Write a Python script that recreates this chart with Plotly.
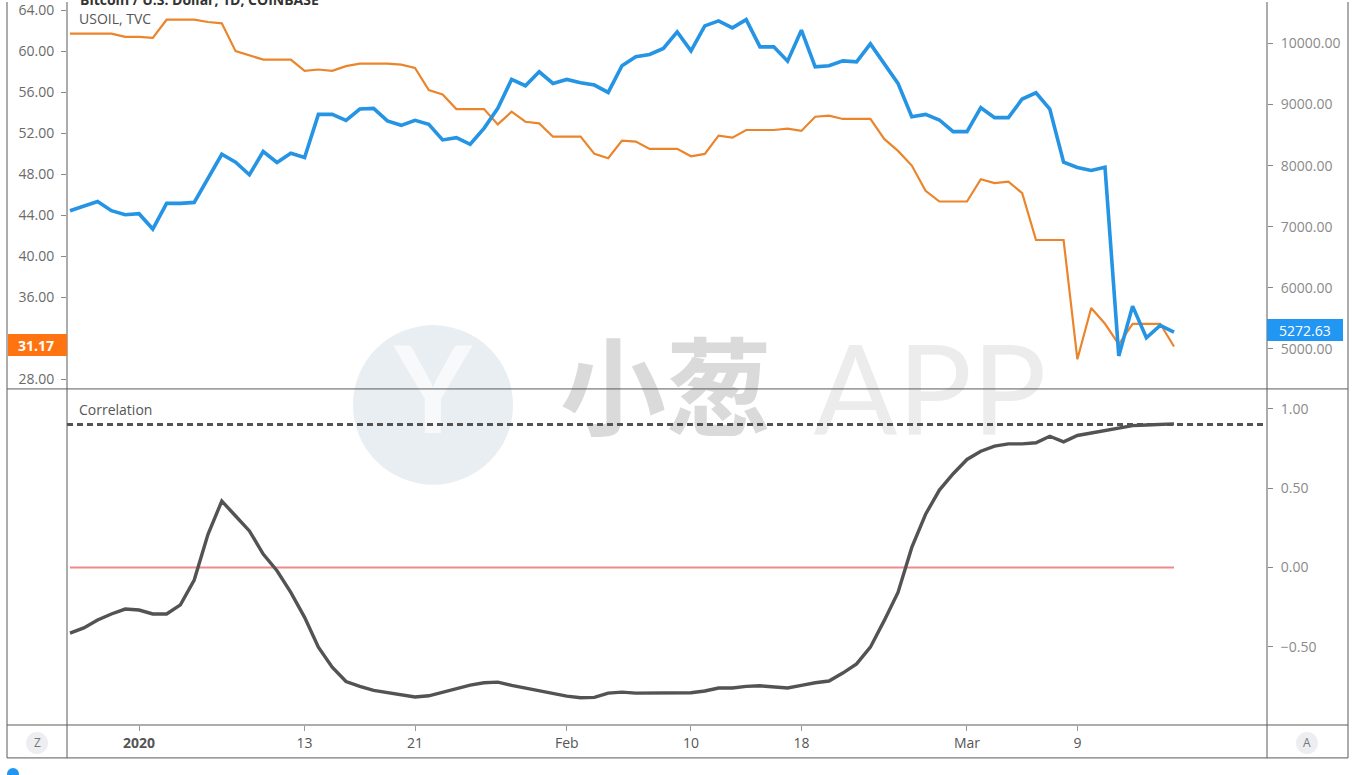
import pandas as pd
import plotly.graph_objects as go

# ---------------- data ----------------
dates = pd.date_range("2019-12-27", "2020-03-16", freq="D")

btc_usd = [7261, 7337, 7413, 7261, 7196, 7212, 6961, 7381, 7381, 7397,
           7794, 8186, 8056, 7850, 8231, 8051, 8203, 8132, 8840, 8840,
           8742, 8928, 8938, 8732, 8660, 8742, 8677, 8421, 8459, 8350,
           8611, 8938, 9412, 9309, 9538, 9347, 9412, 9358, 9320, 9199,
           9636, 9783, 9821, 9919, 10191, 9881, 10289, 10371, 10257, 10392,
           9946, 9946, 9712, 10219, 9619, 9636, 9717, 9701, 9995,
           9673, 9347, 8802, 8840, 8748, 8557, 8557, 8949, 8786, 8786,
           9091, 9194, 8928, 8056, 7969, 7920, 7974, 4881, 5698, 5180,
           5382, 5272.63]

usoil = [61.72, 61.72, 61.72, 61.72, 61.40, 61.40, 61.30, 63.08, 63.08, 63.08,
         62.86, 62.73, 60.01, 59.62, 59.19, 59.19, 59.19, 58.09, 58.22, 58.09,
         58.55, 58.80, 58.80, 58.80, 58.70, 58.38, 56.21, 55.78, 54.36, 54.36,
         54.36, 52.86, 54.10, 53.12, 52.96, 51.66, 51.66, 51.66, 49.98, 49.55,
         51.27, 51.18, 50.47, 50.47, 50.47, 49.74, 49.98, 51.76, 51.57, 52.31,
         52.31, 52.31, 52.44, 52.22, 53.61, 53.71, 53.39, 53.39, 53.39,
         51.44, 50.27, 48.84, 46.38, 45.33, 45.33, 45.33, 47.51, 47.12, 47.28,
         46.14, 41.57, 41.57, 41.57, 29.92, 34.94, 33.39, 31.38, 33.39, 33.39,
         33.39, 31.17]

correlation = [-0.414, -0.381, -0.331, -0.293, -0.262, -0.268, -0.293, -0.293, -0.236, -0.079, 0.209,
               0.418, 0.324, 0.230, 0.084, -0.021, -0.157, -0.314, -0.502, -0.628, -0.718,
               -0.749, -0.774, -0.789, -0.799, -0.816, -0.808, -0.785, -0.766, -0.741, -0.726,
               -0.722, -0.743, -0.759, -0.776, -0.795, -0.810, -0.820, -0.818, -0.791, -0.785,
               -0.791, -0.791, -0.791, -0.791, -0.789, -0.778, -0.759, -0.759, -0.749, -0.745,
               -0.753, -0.759, -0.743, -0.726, -0.715, -0.665, -0.607, -0.502, -0.335, -0.157,
               0.126, 0.335, 0.487, 0.590, 0.680, 0.732, 0.764, 0.778, 0.778, 0.785,
               0.826, 0.791, 0.831, 0.847, 0.858, 0.879, 0.893, 0.897, 0.900, 0.904]

corr_level = 0.9
zero_level = 0.0

x_tick_dates = ["2020-01-01", "2020-01-13", "2020-01-21", "2020-02-01",
                "2020-02-10", "2020-02-18", "2020-03-01", "2020-03-09"]
x_tick_text = ["<b>2020</b>", "13", "21", "Feb", "10", "18", "Mar", "9"]
oil_ticks = [28, 32, 36, 40, 44, 48, 52, 56, 60, 64]
# the 32.00 label sits under the last-price badge in the original
oil_tick_text = ["28.00", "", "36.00", "40.00", "44.00", "48.00", "52.00", "56.00", "60.00", "64.00"]
btc_ticks = [5000, 6000, 7000, 8000, 9000, 10000]
corr_ticks = [-0.5, 0.0, 0.5, 1.0]

title_text = "Bitcoin / U.S. Dollar, 1D, COINBASE"
oil_label = "USOIL, TVC"
corr_label = "Correlation"

# ---------------- styling / layout helpers ----------------
W, H = 1355, 775
L, R, T, B = 67, 1267, 0, 725          # plot area in px
SPLIT = 388                              # pane separator in px


def px_x(px):
    return (px - L) / (R - L)


def px_y(py):
    return (B - py) / (B - T)


BLUE = "#2594e4"
ORANGE = "#ea852c"
DARK = "#535353"
FRAME = "#5a5a5a"
FONT = "Open Sans"

oil_range = [27.03, 64.81]
btc_range = [4341, 10681]
corr_range = [-0.992, 1.124]
x_range = ["2019-12-26 18:47", "2020-03-22 17:46"]

fig = go.Figure()


def px_date(px):
    return dates[0] + pd.Timedelta(days=(px - 70) / 13.8)


def py_corr(py):
    return corr_range[1] - (py - SPLIT) / (B - SPLIT) * (corr_range[1] - corr_range[0])


# watermark (drawn first so the lines sit above it)
fig.add_trace(go.Scatter(
    x=[px_date(433), px_date(666), px_date(930)],
    y=[py_corr(402), py_corr(400), py_corr(402)],
    mode="text", text=["Y", "小葱", "APP"], cliponaxis=False,
    textfont=dict(family=["Lato", "Noto Sans CJK SC", "Lato"], size=[120, 106, 124],
                  color=["#f7f9fb", "#dadada", "#ececec"], weight=["bold", "bold", "normal"]),
    yaxis="y3", hoverinfo="skip", showlegend=False))

fig.add_trace(go.Scatter(x=dates, y=usoil, mode="lines", yaxis="y",
                         line=dict(color=ORANGE, width=2.2), showlegend=False))
fig.add_trace(go.Scatter(x=dates, y=btc_usd, mode="lines", yaxis="y2",
                         line=dict(color=BLUE, width=3.6), showlegend=False))
fig.add_trace(go.Scatter(x=dates, y=[zero_level] * len(dates), mode="lines", yaxis="y3",
                         line=dict(color="#f08a8a", width=2), showlegend=False))
fig.add_trace(go.Scatter(x=dates, y=correlation, mode="lines", yaxis="y3",
                         line=dict(color=DARK, width=3.4), showlegend=False))

tickfont = dict(family=FONT, size=14, color="#6a6a6a")
rtickfont = dict(family=FONT, size=14, color="#8a8a8a")

shapes = []
shapes.append(dict(type="circle", xref="paper", yref="paper", layer="below",
                   x0=px_x(353), x1=px_x(513), y0=px_y(484), y1=px_y(324),
                   fillcolor="#e9eef2", line=dict(width=0)))
shapes.append(dict(type="line", xref="paper", yref="y3", x0=0, x1=1,
                   y0=corr_level, y1=corr_level, layer="above",
                   line=dict(color=DARK, width=3, dash="6px,4px")))
for xx in (7, L, R, 1348):
    shapes.append(dict(type="line", xref="paper", yref="paper", layer="above",
                       x0=px_x(xx), x1=px_x(xx), y0=px_y(758), y1=px_y(0),
                       line=dict(color=FRAME, width=1)))
for yy in (SPLIT, B, 758):
    shapes.append(dict(type="line", xref="paper", yref="paper", layer="above",
                       x0=px_x(7), x1=px_x(1348), y0=px_y(yy), y1=px_y(yy),
                       line=dict(color=FRAME, width=1)))
shapes.append(dict(type="rect", xref="paper", yref="paper", layer="above",
                   x0=px_x(8), x1=px_x(L), y0=px_y(355), y1=px_y(333),
                   fillcolor="#ff7410", line=dict(width=0)))
shapes.append(dict(type="rect", xref="paper", yref="paper", layer="above",
                   x0=px_x(R), x1=px_x(1343), y0=px_y(340), y1=px_y(318),
                   fillcolor="#2196F3", line=dict(width=0)))
for cx in (37, 1307):
    shapes.append(dict(type="circle", xref="paper", yref="paper", layer="above",
                       x0=px_x(cx - 11), x1=px_x(cx + 11), y0=px_y(754), y1=px_y(732),
                       fillcolor="#eceef2", line=dict(width=0)))
shapes.append(dict(type="circle", xref="paper", yref="paper", layer="above",
                   x0=px_x(7), x1=px_x(19), y0=px_y(780), y1=px_y(768),
                   fillcolor="#2196F3", line=dict(width=0)))

annotations = [
    dict(text=f"<b>{title_text}</b>", xref="paper", yref="paper", x=px_x(78), y=1,
         xanchor="left", yanchor="middle", yshift=3, showarrow=False,
         font=dict(family=FONT, size=14, color="#333333")),
    dict(text=oil_label, xref="paper", yref="paper", x=px_x(77), y=px_y(17),
         xanchor="left", yanchor="middle", showarrow=False,
         font=dict(family=FONT, size=14, color="#555555")),
    dict(text=corr_label, xref="paper", yref="paper", x=px_x(77), y=px_y(409),
         xanchor="left", yanchor="middle", showarrow=False,
         font=dict(family=FONT, size=14, color="#555555")),
    dict(text=f"<b>{usoil[-1]:.2f}</b>", xref="paper", yref="paper", x=px_x(36), y=px_y(344),
         xanchor="center", yanchor="middle", showarrow=False,
         font=dict(family=FONT, size=14, color="#ffffff")),
    dict(text=f"{btc_usd[-1]:.2f}", xref="paper", yref="paper", x=px_x(1305), y=px_y(329),
         xanchor="center", yanchor="middle", showarrow=False,
         font=dict(family=FONT, size=14, color="#ffffff")),
    dict(text="Z", xref="paper", yref="paper", x=px_x(37), y=px_y(743),
         xanchor="center", yanchor="middle", showarrow=False,
         font=dict(family=FONT, size=12, color="#777777")),
    dict(text="A", xref="paper", yref="paper", x=px_x(1307), y=px_y(743),
         xanchor="center", yanchor="middle", showarrow=False,
         font=dict(family=FONT, size=12, color="#777777")),
]

fig.update_layout(
    width=W, height=H,
    margin=dict(l=L, r=W - R, t=T, b=H - B, pad=0),
    paper_bgcolor="white", plot_bgcolor="white",
    showlegend=False,
    xaxis=dict(type="date", range=x_range, anchor="y3", domain=[0, 1],
               tickvals=x_tick_dates, ticktext=x_tick_text,
               ticks="outside", ticklen=5, tickcolor="#999999",
               showgrid=False, zeroline=False, showline=False,
               tickfont=dict(family=FONT, size=14, color="#555555")),
    yaxis=dict(domain=[px_y(SPLIT), 1], range=oil_range, side="left", anchor="x",
               tickvals=oil_ticks, ticktext=oil_tick_text, ticks="outside", ticklen=5,
               tickcolor="#888888", showgrid=False, zeroline=False, showline=False,
               tickfont=tickfont, ticklabelstandoff=4, ticklabeloverflow="allow"),
    yaxis2=dict(overlaying="y", range=btc_range, side="right", anchor="x",
                tickvals=btc_ticks, tickformat=".2f", ticks="outside", ticklen=5,
                tickcolor="#888888", showgrid=False, zeroline=False, showline=False,
                tickfont=rtickfont, ticklabelstandoff=5, ticklabeloverflow="allow"),
    yaxis3=dict(domain=[0, px_y(SPLIT)], range=corr_range, side="right", anchor="x",
                tickvals=corr_ticks, tickformat=".2f", ticks="outside", ticklen=5,
                tickcolor="#888888", showgrid=False, zeroline=False, showline=False,
                tickfont=rtickfont, ticklabelstandoff=5),
    shapes=shapes,
    annotations=annotations,
)

fig.write_html("out.html", config={"displayModeBar": False},
               post_script="document.body.style.margin='0';")
